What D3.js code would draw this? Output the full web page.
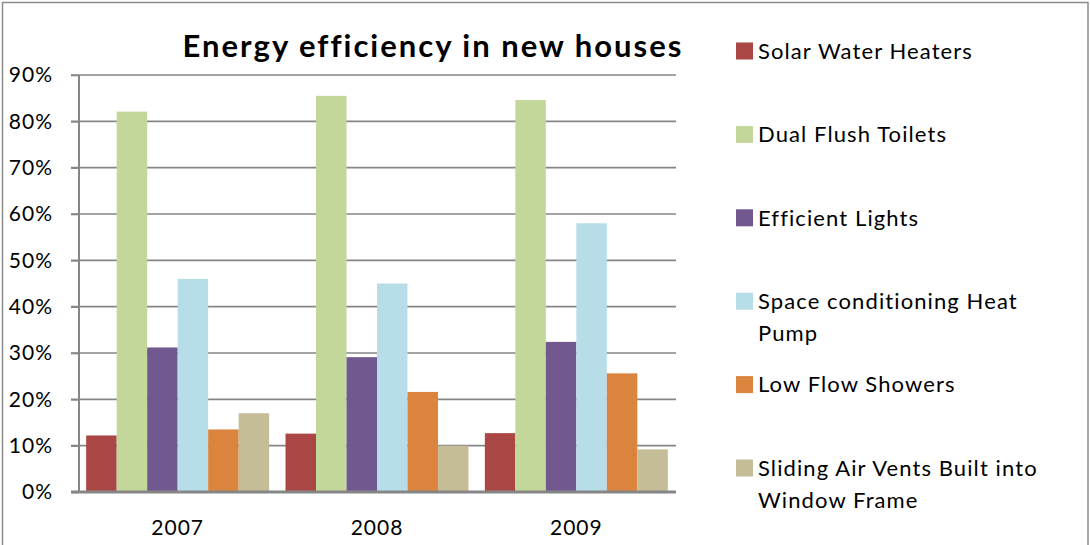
<!DOCTYPE html>
<html>
<head>
<meta charset="utf-8">
<script src="https://cdn.jsdelivr.net/npm/d3@7"></script>
<style>
  html, body { margin: 0; padding: 0; background: #fff; }
  svg { display: block; font-family: Lato, "Open Sans", sans-serif; }
</style>
</head>
<body>
<svg id="chart" width="1090" height="545"></svg>
<script>
var years = ['2007', '2008', '2009'];
var seriesNames = [
    'Solar Water Heaters',
    'Dual Flush Toilets',
    'Efficient Lights',
    'Space conditioning Heat Pump',
    'Low Flow Showers',
    'Sliding Air Vents Built into Window Frame'
];
// legend wraps like the original
var legendLines = [
    ['Solar Water Heaters'],
    ['Dual Flush Toilets'],
    ['Efficient Lights'],
    ['Space conditioning Heat', 'Pump'],
    ['Low Flow Showers'],
    ['Sliding Air Vents Built into', 'Window Frame']
];
var colors = ['#AA4643', '#C4D79B', '#71588F', '#B7DEE8', '#DB843D', '#C4BD97'];

// one array per series, values per year
var solar    = [0.122, 0.126, 0.127];
var dual     = [0.821, 0.855, 0.846];
var lights   = [0.312, 0.291, 0.324];
var heatPump = [0.460, 0.450, 0.580];
var showers  = [0.135, 0.216, 0.256];
var vents    = [0.170, 0.100, 0.092];
var values = [solar, dual, lights, heatPump, showers, vents];

var yTicks = [0, 0.1, 0.2, 0.3, 0.4, 0.5, 0.6, 0.7, 0.8, 0.9];

var title = 'Energy efficiency in new houses';

function draw() {
    var svg = d3.select('#chart');
    var W = 1090, H = 545;

    var plotLeft = 78, plotRight = 676;
    var plotTop = 75, plotBottom = 492;

    var gridColor = '#868686';

    // outer chart border
    svg.append('rect')
        .attr('x', 2.5).attr('y', 2.5)
        .attr('width', 1085.5).attr('height', H + 10)
        .attr('fill', 'none')
        .attr('stroke', '#8c8c8c')
        .attr('stroke-width', 1.5);

    var x0 = d3.scaleBand()
        .domain(years)
        .range([plotLeft, plotRight]);
    var gap = x0.step() * 0.082;
    var x1 = d3.scaleBand()
        .domain(seriesNames)
        .range([gap / 2, x0.bandwidth() - gap / 2]);

    var y = d3.scaleLinear()
        .domain([0, 0.9])
        .range([plotBottom, plotTop]);

    // gridlines
    svg.append('g')
        .selectAll('line')
        .data(yTicks.filter(d => d > 0))
        .enter().append('line')
        .attr('x1', plotLeft - 7).attr('x2', plotRight)
        .attr('y1', d => y(d)).attr('y2', d => y(d))
        .attr('stroke', gridColor)
        .attr('stroke-width', 1.6);

    // bars
    var groups = svg.append('g')
        .selectAll('g')
        .data(years)
        .enter().append('g')
        .attr('transform', d => 'translate(' + x0(d) + ',0)');

    groups.selectAll('rect')
        .data((yr, yi) => seriesNames.map((s, si) => ({ s: s, si: si, v: values[si][yi] })))
        .enter().append('rect')
        .attr('x', d => x1(d.s))
        .attr('width', x1.bandwidth())
        .attr('y', d => y(d.v))
        .attr('height', d => plotBottom - y(d.v))
        .attr('fill', d => colors[d.si]);

    // y axis
    var yAxis = d3.axisLeft(y)
        .tickValues(yTicks)
        .tickFormat(d3.format('.0%'))
        .tickSize(8)
        .tickPadding(18);
    var ga = svg.append('g')
        .attr('transform', 'translate(' + (plotLeft + 1) + ',0)')
        .call(yAxis);
    ga.select('.domain')
        .attr('stroke', gridColor)
        .attr('stroke-width', 2)
        .attr('d', 'M0,' + plotTop + 'V' + plotBottom);
    ga.selectAll('.tick line')
        .attr('stroke', gridColor)
        .attr('stroke-width', 1.6);
    ga.selectAll('.tick text')
        .attr('font-family', 'Lato, sans-serif')
        .attr('font-size', 21)
        .attr('letter-spacing', 1)
        .attr('fill', '#000');

    // x axis
    var xAxis = d3.axisBottom(x0)
        .tickSize(0)
        .tickPadding(28);
    var gx = svg.append('g')
        .attr('transform', 'translate(0,' + plotBottom + ')')
        .call(xAxis);
    gx.select('.domain')
        .attr('stroke', gridColor)
        .attr('stroke-width', 3)
        .attr('d', 'M' + (plotLeft - 7) + ',0H' + plotRight);
    gx.selectAll('.tick text')
        .attr('font-family', 'Lato, sans-serif')
        .attr('font-size', 21)
        .attr('letter-spacing', 1)
        .attr('fill', '#000');

    // title
    svg.append('text')
        .attr('x', 433)
        .attr('y', 57)
        .attr('text-anchor', 'middle')
        .attr('font-size', 31)
        .attr('font-weight', 'bold')
        .attr('letter-spacing', 2)
        .attr('fill', '#000')
        .text(title);

    // legend
    var legendX = 736, legendY0 = 51, legendStep = 83.4, lineH = 32;
    var lg = svg.append('g')
        .selectAll('g')
        .data(seriesNames)
        .enter().append('g')
        .attr('transform', (d, i) => 'translate(' + legendX + ',' + (legendY0 + i * legendStep) + ')');
    lg.append('rect')
        .attr('x', 0).attr('y', -8.5)
        .attr('width', 17).attr('height', 17)
        .attr('fill', (d, i) => colors[i]);
    lg.append('text')
        .attr('font-size', 22)
        .attr('letter-spacing', 1.1)
        .attr('fill', '#000')
        .selectAll('tspan')
        .data((d, i) => legendLines[i])
        .enter().append('tspan')
        .attr('x', 22)
        .attr('y', (d, j) => j * lineH)
        .attr('dy', '0.35em')
        .text(d => d);
}

draw();
</script>
</body>
</html>
